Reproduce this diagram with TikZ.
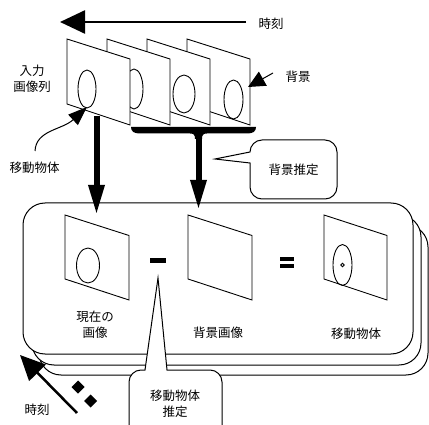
\documentclass[tikz,border=0pt]{standalone}
\usepackage{fontspec}
\setmainfont{Noto Sans CJK JP}
\usetikzlibrary{arrows.meta}
\begin{document}
\begin{tikzpicture}[x=1pt,y=-1pt,
  lbl/.style={font=\fontsize{12.5}{16}\selectfont, align=center, inner sep=0pt},
  pframe/.style={draw, fill=white, line width=0.9pt, line join=miter},
  thinline/.style={line width=0.9pt},
  bigarrow/.style={line width=6pt, -{Triangle[length=30pt,width=15pt]}},
  timearrow/.style={line width=2.5pt, -{Triangle[length=25pt,width=23pt]}},
  roundbox/.style={draw, fill=white, line width=1pt, rounded corners=22pt},
  bubble/.style={draw, fill=white, line width=1pt},
]
\useasboundingbox (0,0) rectangle (429,425);

% ---- top time arrow
\node[lbl] (ttop) at (271,24) {時刻};
\coordinate (ttopS) at (246,22);
\coordinate (ttopE) at (60,22);
\draw[timearrow] (ttopS) -- (ttopE);

% ---- input frames (back to front)
\draw[pframe] (187,39) -- (250,59) -- (250,125) -- (187,104) -- cycle;
\draw[thinline] (233.5,99.5) ellipse [x radius=9.5, y radius=19.5];
\draw[pframe] (147,39) -- (210,59) -- (210,125) -- (147,104) -- cycle;
\draw[thinline] (184,94) ellipse [x radius=11, y radius=19];
\draw[pframe] (107,39) -- (170,59) -- (170,125) -- (107,104) -- cycle;
\draw[thinline] (134,89) ellipse [x radius=9, y radius=20];
\draw[pframe] (67,39) -- (130,59) -- (130,125) -- (67,104) -- cycle;
\draw[thinline] (87,89) ellipse [x radius=9, y radius=19];

\node[lbl] (inlbl) at (32,79) {入力\\画像列};

% ---- background pointer
\node[lbl] (bglbl) at (298,77) {背景};
\coordinate (bgS) at (273,73);
\coordinate (bgT) at (248,87);
\draw[line width=1pt, -{Triangle[length=17pt,width=16pt]}] (bgS) -- (bgT);

% ---- moving object pointer
\node[lbl] (mvlbl) at (34.5,168) {移動物体};
\coordinate (mvS) at (35,151);
\coordinate (mvT) at (87,107);
\draw[line width=1pt, -{Triangle[length=19pt,width=14pt]}] (mvS) .. controls (36,130) and (62,130) .. (mvT);

% ---- stacked boxes
\draw[roundbox] (39,225) rectangle (428,375);
\draw[roundbox] (32,215) rectangle (421,365);
\draw[roundbox] (23,203) rectangle (413,354);

% ---- bracket
\fill (131,127) -- (256,127) .. controls (256,131.5) and (253,133.5) .. (247,133.5)
  -- (207,133.5) .. controls (203,133.5) and (202,135) .. (202,139) -- (195,139)
  .. controls (195,135) and (194,133.5) .. (190,133.5) -- (140,133.5)
  .. controls (134,133.5) and (131,131.5) .. (131,127) -- cycle;

% ---- thick arrows
\coordinate (a1S) at (96.5,116);
\coordinate (a1E) at (96.5,215);
\draw[bigarrow] (a1S) -- (a1E);
\coordinate (a2S) at (198.5,136);
\coordinate (a2E) at (198.5,210);
\draw[bigarrow] (a2S) -- (a2E);

% ---- bubble background estimation
\draw[bubble] (250,152) .. controls (250,145.4) and (255.4,140) .. (262,140) -- (325,140)
  .. controls (331.6,140) and (337,145.4) .. (337,152) -- (337,187)
  .. controls (337,193.6) and (331.6,199) .. (325,199) -- (262,199)
  .. controls (255.4,199) and (250,193.6) .. (250,187) -- (250,163) -- (215,159) -- cycle;
\node[lbl] (bgest) at (293.5,170) {背景推定};

% ---- frames in box
\draw[pframe] (65,215) -- (129,235.5) -- (129,300) -- (65,279) -- cycle;
\draw[thinline] (88,265.5) ellipse [x radius=11.5, y radius=17.5];
\draw[pframe] (188,215) -- (252,235.5) -- (252,300) -- (188,279) -- cycle;
\draw[pframe] (324,215) -- (387,235.5) -- (387,300) -- (324,279) -- cycle;
\draw[thinline] (342.5,265) ellipse [x radius=9.5, y radius=20.5];
\draw[line width=0.8pt] (342.5,265) circle [radius=1.8];

% ---- operators
\fill (150,258) rectangle (166,263.5);
\fill (280,257) rectangle (294,261.5);
\fill (280,264) rectangle (294,268.5);

% ---- box labels
\node[lbl] (curimg) at (95,324.5) {現在の\\画像};
\node[lbl] (bgimg) at (218,333) {背景画像};
\node[lbl] (mvimg) at (356,334) {移動物体};

% ---- bubble moving object estimation
\draw[bubble] (129,440) -- (129,382) .. controls (129,375.4) and (134.4,370) .. (141,370)
  -- (145,370) -- (158,278) -- (167,370) -- (210,370)
  .. controls (216.6,370) and (222,375.4) .. (222,382) -- (222,440);
\node[lbl] (mvest) at (175,403.5) {移動物体\\推定};

% ---- bottom-left time arrow
\coordinate (tbS) at (77,413);
\coordinate (tbE) at (20,355);
\draw[timearrow] (tbS) -- (tbE);
\node[lbl] (tbot) at (37,410) {時刻};
\fill (78,380.5) -- (84.5,387) -- (78,393.5) -- (71.5,387) -- cycle;
\fill (90.7,394.5) -- (97.2,401) -- (90.7,407.5) -- (84.2,401) -- cycle;
\end{tikzpicture}
\end{document}
